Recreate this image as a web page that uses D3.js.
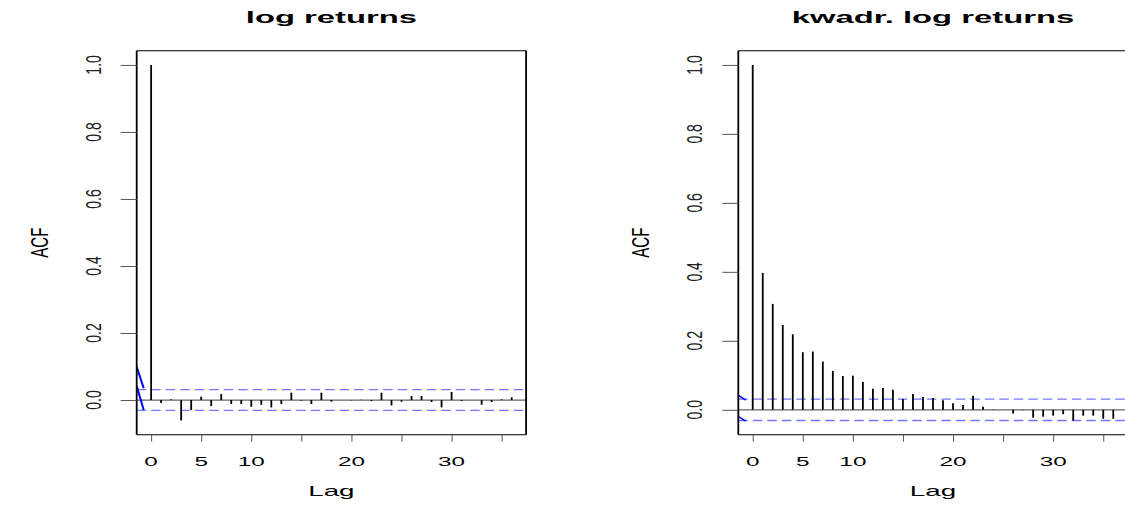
<!DOCTYPE html>
<html>
<head>
<meta charset="utf-8">
<title>ACF log returns</title>
<script src="https://d3js.org/d3.v7.min.js"></script>
<style>
  body { margin: 0; background: #fff; }
  text { font-family: "Liberation Sans", Arial, sans-serif; fill: #000; }
  .title { font-weight: bold; font-size: 16px; }
  .tick-label { font-size: 14px; fill: #222; }
  .x-tick-label { font-size: 13.5px; }
  .axis-label { font-size: 15px; }
  .axis .domain { display: none; }
  .axis .tick line { stroke: #555; stroke-width: 1px; }
</style>
</head>
<body>
<svg width="1125" height="506"></svg>
<script>
// lags and autocorrelations
const lags = [0, 1, 2, 3, 4, 5, 6, 7, 8, 9, 10, 11, 12, 13, 14, 15, 16, 17, 18,
  19, 20, 21, 22, 23, 24, 25, 26, 27, 28, 29, 30, 31, 32, 33, 34, 35, 36];
const acfLogReturns = [1, -0.009, 0.002, -0.061, -0.030, 0.010, -0.018, 0.018,
  -0.012, -0.012, -0.020, -0.014, -0.022, -0.012, 0.022, -0.002, -0.012, 0.022,
  -0.005, 0.000, -0.001, 0.001, -0.003, 0.022, -0.016, -0.005, 0.012, 0.012,
  -0.006, -0.022, 0.024, -0.003, 0.000, -0.014, -0.006, 0.002, 0.008];
const acfSquared = [1, 0.397, 0.307, 0.246, 0.219, 0.167, 0.169, 0.140, 0.113,
  0.098, 0.099, 0.081, 0.061, 0.063, 0.058, 0.031, 0.046, 0.037, 0.034, 0.028,
  0.019, 0.014, 0.041, 0.009, 0.001, 0.000, -0.011, -0.001, -0.023, -0.020,
  -0.017, -0.013, -0.031, -0.017, -0.017, -0.026, -0.026];
const clim = 0.031;

// short blue segments at the left edge of each panel (lag, acf)
const edgeLogReturns = [[[-1.44, 0.099], [-0.74, 0.035]], [[-1.44, 0.042], [-0.74, -0.030]]];
const edgeSquared = [[[-1.5, 0.043], [-0.7, 0.028]], [[-1.5, -0.018], [-0.7, -0.033]]];

const xTicks = [0, 5, 10, 15, 20, 25, 30, 35];
const xTickLabels = ["0", "5", "10", "", "20", "", "30", ""];
const yTicks = [0, 0.2, 0.4, 0.6, 0.8, 1.0];
const yTickLabels = ["0.0", "0.2", "0.4", "0.6", "0.8", "1.0"];

const panels = [
  {title: "log returns", acf: acfLogReturns, edges: edgeLogReturns, left: 136.7, edgeWidth: 2},
  {title: "kwadr. log returns", acf: acfSquared, edges: edgeSquared, left: 738.3, edgeWidth: 1.4}
];

const plotWidth = 389.4;
const plotTop = 50.7, plotBottom = 434.7;
const sx = 1.6;     // the picture is stretched sideways
const xTickSx = 1.8;
const labelSx = 1.85;
const titleSx = 2.05;

const svg = d3.select("svg");

// R style: pad the range by 4% on each side
function pad(ext) {
  const d = (ext[1] - ext[0]) * 0.04;
  return [ext[0] - d, ext[1] + d];
}

function stretchedText(g, x, y, str, cls, s, rotate) {
  return g.append("text")
    .attr("class", cls)
    .attr("text-anchor", "middle")
    .attr("transform", `translate(${x},${y}) scale(${s},1)` + (rotate ? " rotate(-90)" : ""))
    .text(str);
}

panels.forEach((p, i) => {
  const right = p.left + plotWidth;
  const xScale = d3.scaleLinear()
    .domain(pad(d3.extent(lags)))
    .range([p.left, right]);
  const yScale = d3.scaleLinear()
    .domain(pad(d3.extent(p.acf.concat([clim, -clim]))))
    .range([plotBottom, plotTop]);

  const g = svg.append("g");
  const clipId = "clip" + i;
  g.append("clipPath").attr("id", clipId)
    .append("rect")
    .attr("x", p.left).attr("y", plotTop)
    .attr("width", plotWidth).attr("height", plotBottom - plotTop);

  // zero line
  g.append("line")
    .attr("x1", p.left).attr("x2", right)
    .attr("y1", yScale(0)).attr("y2", yScale(0))
    .attr("stroke", "#666").attr("stroke-width", 1.2);

  // confidence bounds
  g.selectAll(".ci").data([clim, -clim])
    .enter().append("line")
      .attr("class", "ci")
      .attr("x1", p.left).attr("x2", right)
      .attr("y1", d => yScale(d)).attr("y2", d => yScale(d))
      .attr("stroke", "#7676ff").attr("stroke-width", 1.3)
      .attr("stroke-dasharray", "9.5,5");

  // spikes
  g.selectAll(".bar").data(lags)
    .enter().append("line")
      .attr("class", "bar")
      .attr("x1", d => xScale(d)).attr("x2", d => xScale(d))
      .attr("y1", yScale(0)).attr("y2", (d, j) => yScale(p.acf[j]))
      .attr("stroke", "#000").attr("stroke-width", 1.8);

  // blue edge segments
  const line = d3.line().x(d => xScale(d[0])).y(d => yScale(d[1]));
  g.append("g").attr("clip-path", `url(#${clipId})`)
    .selectAll("path").data(p.edges)
    .enter().append("path")
      .attr("d", line)
      .attr("fill", "none")
      .attr("stroke", "#0000ff")
      .attr("stroke-width", p.edgeWidth);

  // box: vertical sides look heavier because of the stretch
  g.append("line").attr("x1", p.left).attr("x2", right).attr("y1", plotTop).attr("y2", plotTop)
    .attr("stroke", "#000").attr("stroke-width", 1.1);
  g.append("line").attr("x1", p.left).attr("x2", right).attr("y1", plotBottom).attr("y2", plotBottom)
    .attr("stroke", "#000").attr("stroke-width", 1.1);
  g.selectAll(".side").data([p.left, right])
    .enter().append("line")
      .attr("class", "side")
      .attr("x1", d => d).attr("x2", d => d)
      .attr("y1", plotTop).attr("y2", plotBottom)
      .attr("stroke", "#000").attr("stroke-width", 1.8);

  // axes
  g.append("g")
    .attr("class", "axis")
    .attr("transform", `translate(${p.left},0)`)
    .call(d3.axisLeft(yScale).tickValues(yTicks).tickSize(16).tickFormat(""));
  g.append("g")
    .attr("class", "axis")
    .attr("transform", `translate(0,${plotBottom})`)
    .call(d3.axisBottom(xScale).tickValues(xTicks).tickSize(7).tickFormat(""));

  yTicks.forEach((t, j) => {
    stretchedText(g, p.left - 36, yScale(t), yTickLabels[j], "tick-label", sx, true);
  });
  xTicks.forEach((t, j) => {
    if (xTickLabels[j]) stretchedText(g, xScale(t), 466, xTickLabels[j], "x-tick-label", xTickSx, false);
  });

  const cx = p.left + plotWidth / 2;
  stretchedText(g, cx, 23, p.title, "title", titleSx, false);
  stretchedText(g, cx, 496, "Lag", "axis-label", labelSx, false);
  stretchedText(g, p.left - 89, (plotTop + plotBottom) / 2, "ACF", "axis-label", sx, true);
});
</script>
</body>
</html>
